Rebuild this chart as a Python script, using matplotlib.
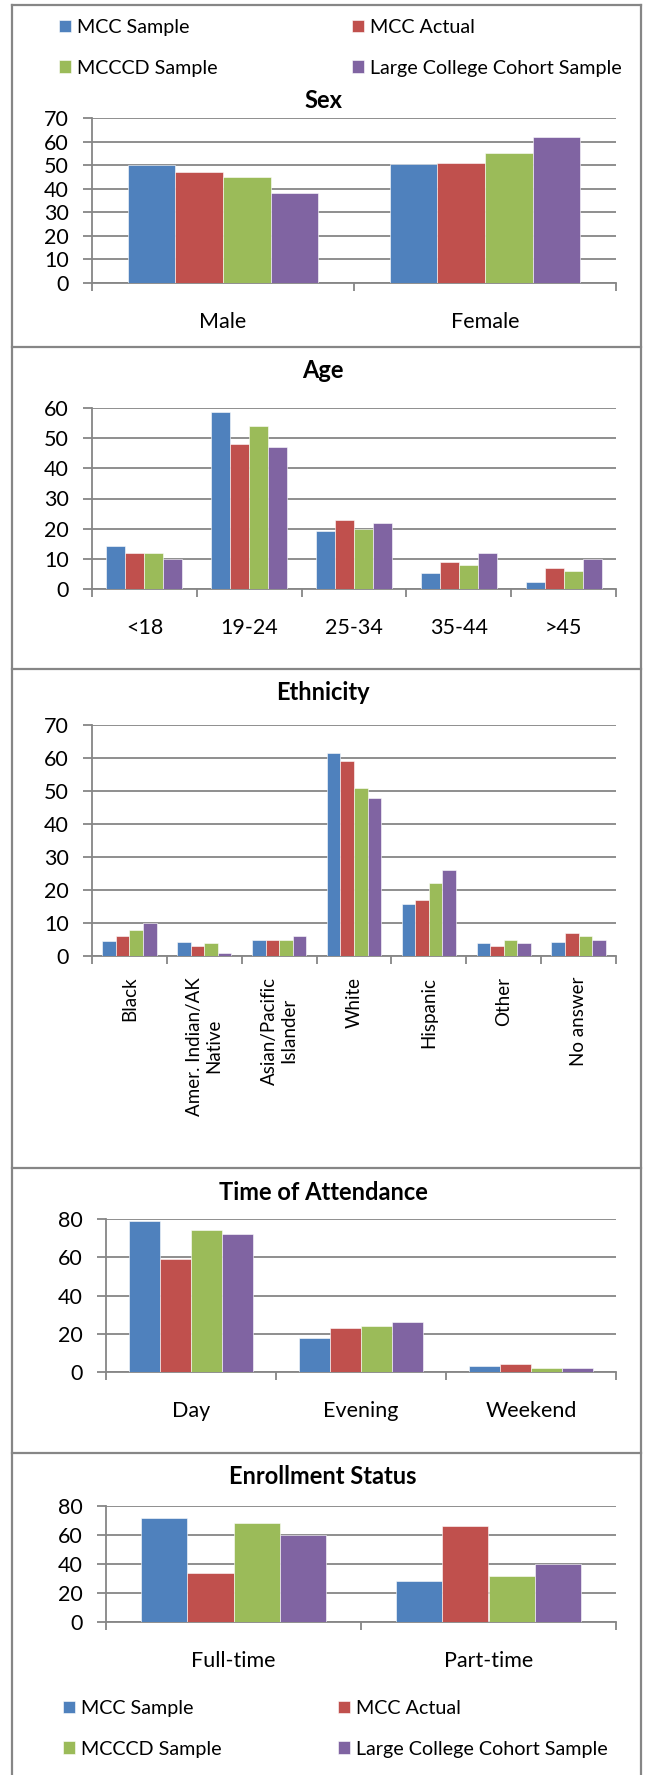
import matplotlib
matplotlib.use("Agg")
import matplotlib.pyplot as plt
import numpy as np
from matplotlib.lines import Line2D

# series and colours
series = ["MCC Sample", "MCC Actual", "MCCCD Sample", "Large College Cohort Sample"]
colors = ["#4F81BD", "#C0504D", "#9BBB59", "#8064A2"]

# each row = one series, each column = one category
sex_labels = ["Male", "Female"]
sex_values = [[50, 50.4], [47, 51], [45, 55], [38, 62]]

age_labels = ["<18", "19-24", "25-34", "35-44", ">45"]
age_values = [[14.2, 58.6, 19.2, 5.2, 2.3],
              [12, 48, 23, 9, 7],
              [12, 54, 20, 8, 6],
              [10, 47, 22, 12, 10]]

eth_labels = ["Black", "Amer. Indian/AK\nNative", "Asian/Pacific\nIslander", "White",
              "Hispanic", "Other", "No answer"]
eth_values = [[4.5, 4.3, 4.7, 61.4, 15.8, 4.0, 4.3],
              [6, 3, 5, 59, 17, 3, 7],
              [8, 4, 5, 51, 22, 5, 6],
              [10, 1, 6, 48, 26, 4, 5]]

time_labels = ["Day", "Evening", "Weekend"]
time_values = [[79, 18, 3], [59, 23, 4], [74, 24, 2], [72, 26, 2]]

enr_labels = ["Full-time", "Part-time"]
enr_values = [[72, 28], [34, 66], [68, 32], [60, 40]]

W, H = 645, 1775
GRAY = "#868686"
plt.rcParams["font.family"] = ["Lato", "DejaVu Sans"]

fig = plt.figure(figsize=(W / 100, H / 100), dpi=100)


def box(l, t, r, b):
    return [l / W, 1 - b / H, (r - l) / W, (b - t) / H]


def fy(y):
    return 1 - y / H


# title, labels, values, ymax, ystep, axes box (px), label pad, rotation, title y
panels = [
    ("Sex", sex_labels, sex_values, 70, 10, (92, 118, 616, 283), 21, 0, 100),
    ("Age", age_labels, age_values, 60, 10, (92, 408, 616, 589), 21, 0, 370),
    ("Ethnicity", eth_labels, eth_values, 70, 10, (92, 725, 616, 956), 15, 90, 692),
    ("Time of Attendance", time_labels, time_values, 80, 20, (106, 1219, 616, 1372), 21, 0, 1192),
    ("Enrollment Status", enr_labels, enr_values, 80, 20, (106, 1506, 616, 1622), 21, 0, 1477),
]

bars = []
for title, labels, values, ymax, ystep, px, pad, rot, ty in panels:
    ax = fig.add_axes(box(*px))
    n = len(labels)
    x = np.arange(n)
    w = 0.727 / 4
    for i, vals in enumerate(values):
        b = ax.bar(x + (i - 1.5) * w, vals, w, color=colors[i], edgecolor="white",
                   linewidth=0.4, zorder=3, label=series[i])
        if len(bars) < 4:
            bars.append(b)
    ax.set_xlim(-0.5, n - 0.5)
    ax.set_ylim(0, ymax)
    ax.set_yticks(np.arange(0, ymax + 1, ystep))
    ax.yaxis.grid(True, color=GRAY, linewidth=1.3, zorder=0)
    ax.set_axisbelow(True)
    for s in ["top", "right"]:
        ax.spines[s].set_visible(False)
    for s in ["left", "bottom"]:
        ax.spines[s].set_color(GRAY)
        ax.spines[s].set_linewidth(1.3)
    ax.tick_params(axis="y", direction="out", length=6.5, width=1.3, color=GRAY,
                   labelsize=15.5, pad=10)
    ax.set_xticks(x)
    if rot:
        ax.set_xticklabels(labels, rotation=90, fontsize=13.5, va="top", ha="center",
                           multialignment="center")
    else:
        ax.set_xticklabels(labels, fontsize=15.5)
    ax.tick_params(axis="x", length=0, pad=pad)
    ax.set_xticks(np.arange(n + 1) - 0.5, minor=True)
    ax.tick_params(axis="x", which="minor", direction="out", length=6, width=1.3, color=GRAY)
    fig.text(323 / W, fy(ty), title, ha="center", va="center", fontsize=17,
             fontweight="bold")

# outer border and separators
for y in [5, 347, 669, 1168, 1453]:
    fig.add_artist(Line2D([12 / W, 641 / W], [fy(y), fy(y)], color=GRAY, linewidth=1.6,
                          transform=fig.transFigure))
for xx in [12, 641]:
    fig.add_artist(Line2D([xx / W, xx / W], [fy(5), 0], color=GRAY, linewidth=1.6,
                          transform=fig.transFigure))

order = [0, 2, 1, 3]
handles = [bars[i] for i in order]
names = [series[i] for i in order]
common = dict(ncol=2, loc="upper left", frameon=False, fontsize=14.2,
              handlelength=0.62, handleheight=0.62, handletextpad=0.3,
              labelspacing=1.2, borderpad=0, borderaxespad=0)
fig.legend(handles, names, bbox_to_anchor=(59 / W, fy(19)), columnspacing=6.8, **common)
fig.legend(handles, names, bbox_to_anchor=(63 / W, fy(1700)), columnspacing=5.9, **common)

fig.savefig("out.png", dpi=100)
